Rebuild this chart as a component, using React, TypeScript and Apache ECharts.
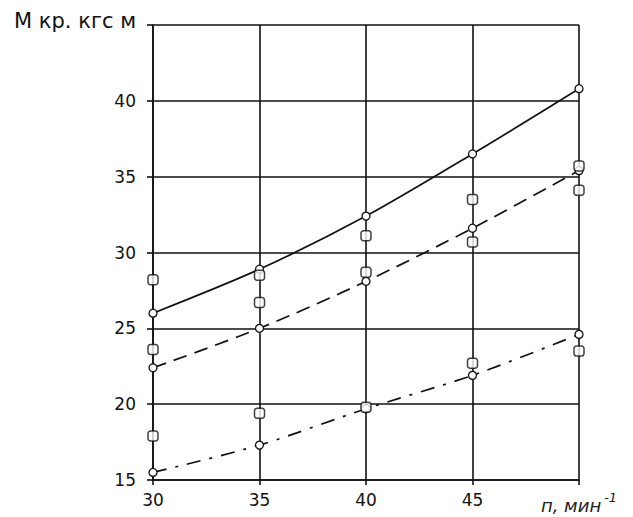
import React, { useEffect, useRef } from "react";
import * as echarts from "echarts";

const xTicks = [30, 35, 40, 45, 50];
const solidCurve = [26.0, 28.9, 32.4, 36.5, 40.8];
const dashedCurve = [22.4, 25.0, 28.1, 31.6, 35.4];
const dashDotCurve = [15.5, 17.3, 19.7, 21.9, 24.6];
const squareX = [30, 30, 30, 35, 35, 35, 40, 40, 40, 45, 45, 45, 50, 50, 50];
const squareY = [28.2, 23.6, 17.9, 28.5, 26.7, 19.4, 31.1, 28.7, 19.8, 33.5, 30.7, 22.7, 35.7, 34.1, 23.5];
const yAxisTitle = "M кр. кгс м";
const xAxisTitle = "п, мин";

export default function App() {
  const ref = useRef<HTMLDivElement>(null);
  useEffect(() => {
    if (!ref.current) return;
    const chart = echarts.init(ref.current, undefined, { renderer: "svg" });
    const font = "DejaVu Sans, Liberation Sans, sans-serif";
    const pairs = (ys: number[]) => xTicks.map((x, i) => [x, ys[i]]);
    const lineSeries = (ys: number[], type: any) => ({
      type: "line",
      data: pairs(ys),
      smooth: 0.3,
      symbol: "circle",
      symbolSize: 8,
      itemStyle: { color: "#fff", borderColor: "#111", borderWidth: 1.3 },
      lineStyle: { color: "#111", width: 1.7, type },
      z: 3,
    });
    chart.setOption({
      animation: false,
      backgroundColor: "#fff",
      grid: { left: 153, right: 54, top: 25, bottom: 37, containLabel: false },
      xAxis: {
        type: "value",
        min: 30,
        max: 50,
        interval: 5,
        axisLine: { lineStyle: { color: "#111", width: 1.6 } },
        axisTick: { show: true, length: 5, lineStyle: { color: "#111", width: 1.6 } },
        splitLine: { show: true, lineStyle: { color: "#111", width: 1.6 } },
        axisLabel: {
          color: "#111",
          fontFamily: font,
          fontSize: 17,
          margin: 11,
          formatter: (v: number) => (v === 50 ? "{it|" + xAxisTitle + "}{sup|-1}" : String(v)),
          rich: {
            it: { fontStyle: "italic", fontSize: 18, fontFamily: font, color: "#222", padding: [4, 0, 0, 0] },
            sup: { fontStyle: "italic", fontSize: 13, fontFamily: font, color: "#222", verticalAlign: "top", padding: [0, 0, 12, 3] },
          },
        },
      },
      yAxis: {
        type: "value",
        min: 15,
        max: 45,
        interval: 5,
        axisLine: { lineStyle: { color: "#111", width: 1.6 } },
        axisTick: { show: true, length: 6, lineStyle: { color: "#111", width: 1.6 } },
        splitLine: { show: true, lineStyle: { color: "#111", width: 1.6 } },
        axisLabel: {
          color: "#111",
          fontFamily: font,
          fontSize: 17,
          margin: 17,
          formatter: (v: number) => (v === 45 ? "{t|" + yAxisTitle + "}" : String(v)),
          rich: {
            t: { fontSize: 21, fontFamily: font, color: "#111", padding: [0, 0, 8, 0] },
          },
        },
      },
      series: [
        lineSeries(solidCurve, "solid"),
        lineSeries(dashedCurve, [14, 8]),
        lineSeries(dashDotCurve, [14, 9, 3, 9]),
        {
          type: "scatter",
          data: squareX.map((x, i) => [x, squareY[i]]),
          symbol: "roundRect",
          symbolSize: [10, 10],
          itemStyle: { color: "#fff", borderColor: "#111", borderWidth: 1.5 },
          z: 4,
        },
      ],
    });
    return () => chart.dispose();
  }, []);
  return (
    <div
      ref={ref}
      style={{ position: "fixed", left: 0, top: 0, width: 633, height: 517 }}
    />
  );
}
